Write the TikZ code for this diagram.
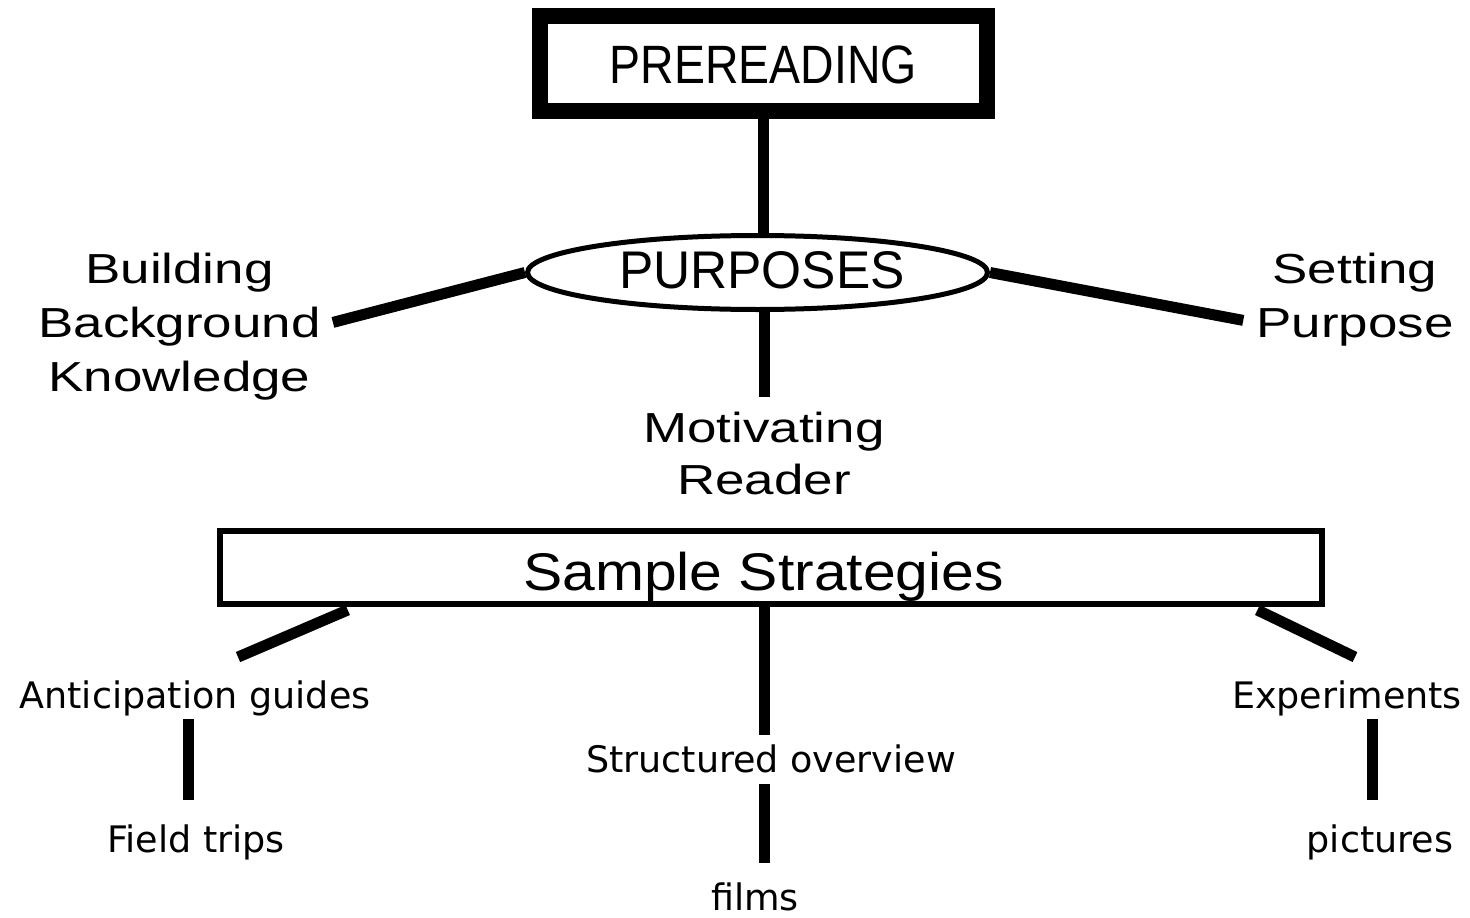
\documentclass[tikz,border=0pt]{standalone}
\usepackage{fontspec}
\setmainfont{Liberation Sans}
\newfontfamily\fWide[FakeStretch=1.26]{Liberation Sans}
\newfontfamily\fPurp[FakeStretch=0.97]{Liberation Sans}
\newfontfamily\fPre[FakeStretch=0.86]{Liberation Sans}
\newfontfamily\fSamp[FakeStretch=1.11]{Liberation Sans}
\newfontfamily\fSmall{DejaVu Sans}
\usetikzlibrary{shapes.geometric,calc,backgrounds}
\begin{document}
\begin{tikzpicture}[x=1pt,y=-1pt,
  conn/.style={line width=11pt},
  big/.style={inner sep=0pt, align=center, font=\fWide\fontsize{42}{54}\selectfont},
  small/.style={inner sep=0pt, anchor=base, font=\fSmall\fontsize{36.5}{44}\selectfont},
  headbox/.style={draw, fill=white, inner sep=0pt},
]
\useasboundingbox (0,0) rectangle (1470,918);

\node[headbox, line width=16pt, minimum width=447pt, minimum height=95pt,
      text height=39pt, text depth=0pt,
      font=\fPre\fontsize{54}{60}\selectfont] (prer) at (763.5,63.5) {PREREADING};
\node[headbox, ellipse, line width=5pt, minimum width=460pt, minimum height=74pt,
      text height=31pt, text depth=0pt,
      font=\fPurp\fontsize{53}{60}\selectfont] (purp) at (757.5,272.5) {\hspace*{9pt}PURPOSES};
\node[headbox, line width=6pt, minimum width=1102pt, minimum height=73pt,
      text height=45pt, text depth=0pt,
      font=\fSamp\fontsize{53}{60}\selectfont] (strat) at (771,567.5) {Sample Strategies\hspace*{15pt}};

\node[big] (bbk) at (179.5,326.4) {Building\\Background\\Knowledge};
\node[big] (sp) at (1355,299.4) {Setting\\Purpose};
\node[big, font=\fWide\fontsize{42}{52}\selectfont] (mot) at (764,453) {Motivating\\Reader};

\node[small] (ant) at (195,708) {Anticipation guides};
\node[small] (ft) at (196,852) {Field trips};
\node[small] (so) at (771,772) {Structured overview};
\node[small] (films) at (755,910) {films};
\node[small] (exp) at (1347,708) {Experiments};
\node[small] (pic) at (1380,852) {pictures};

\begin{scope}[on background layer]
\fill[white] (0,0) rectangle (1470,918);
\draw[conn] (prer.south) -- (prer.south |- purp.north);
\draw[conn] ([xshift=12pt,yshift=4pt]bbk.east) -- (purp.west);
\draw[conn] (purp.east) -- ([xshift=-13pt,yshift=-21pt]sp.west);
\draw[conn, shorten >=14pt] (mot.north |- purp.south) -- (mot.north);
\draw[conn] ([yshift=-3pt]$(strat.south west)!0.118!(strat.south east)$) -- ([xshift=43pt,yshift=23pt]ant.north);
\draw[conn] ([yshift=-3pt]$(strat.south west)!0.939!(strat.south east)$) -- ([xshift=8pt,yshift=23pt]exp.north);
\draw[conn, shorten <=9.3pt] ([xshift=-7pt]so.north) -- ([xshift=-7pt]so.north |- strat.south);
\draw[conn, shorten <=11pt, shorten >=19pt] ([xshift=-7pt]so.south) -- ([xshift=-7pt]so.south |- films.north);
\draw[conn, shorten <=3.4pt, shorten >=24pt] ([xshift=-7pt]ant.south) -- ([xshift=-7pt]ant.south |- ft.north);
\draw[conn, shorten <=3.4pt, shorten >=24pt] ([xshift=25pt]exp.south) -- ([xshift=25pt]exp.south |- pic.north);
\end{scope}
\end{tikzpicture}
\end{document}
